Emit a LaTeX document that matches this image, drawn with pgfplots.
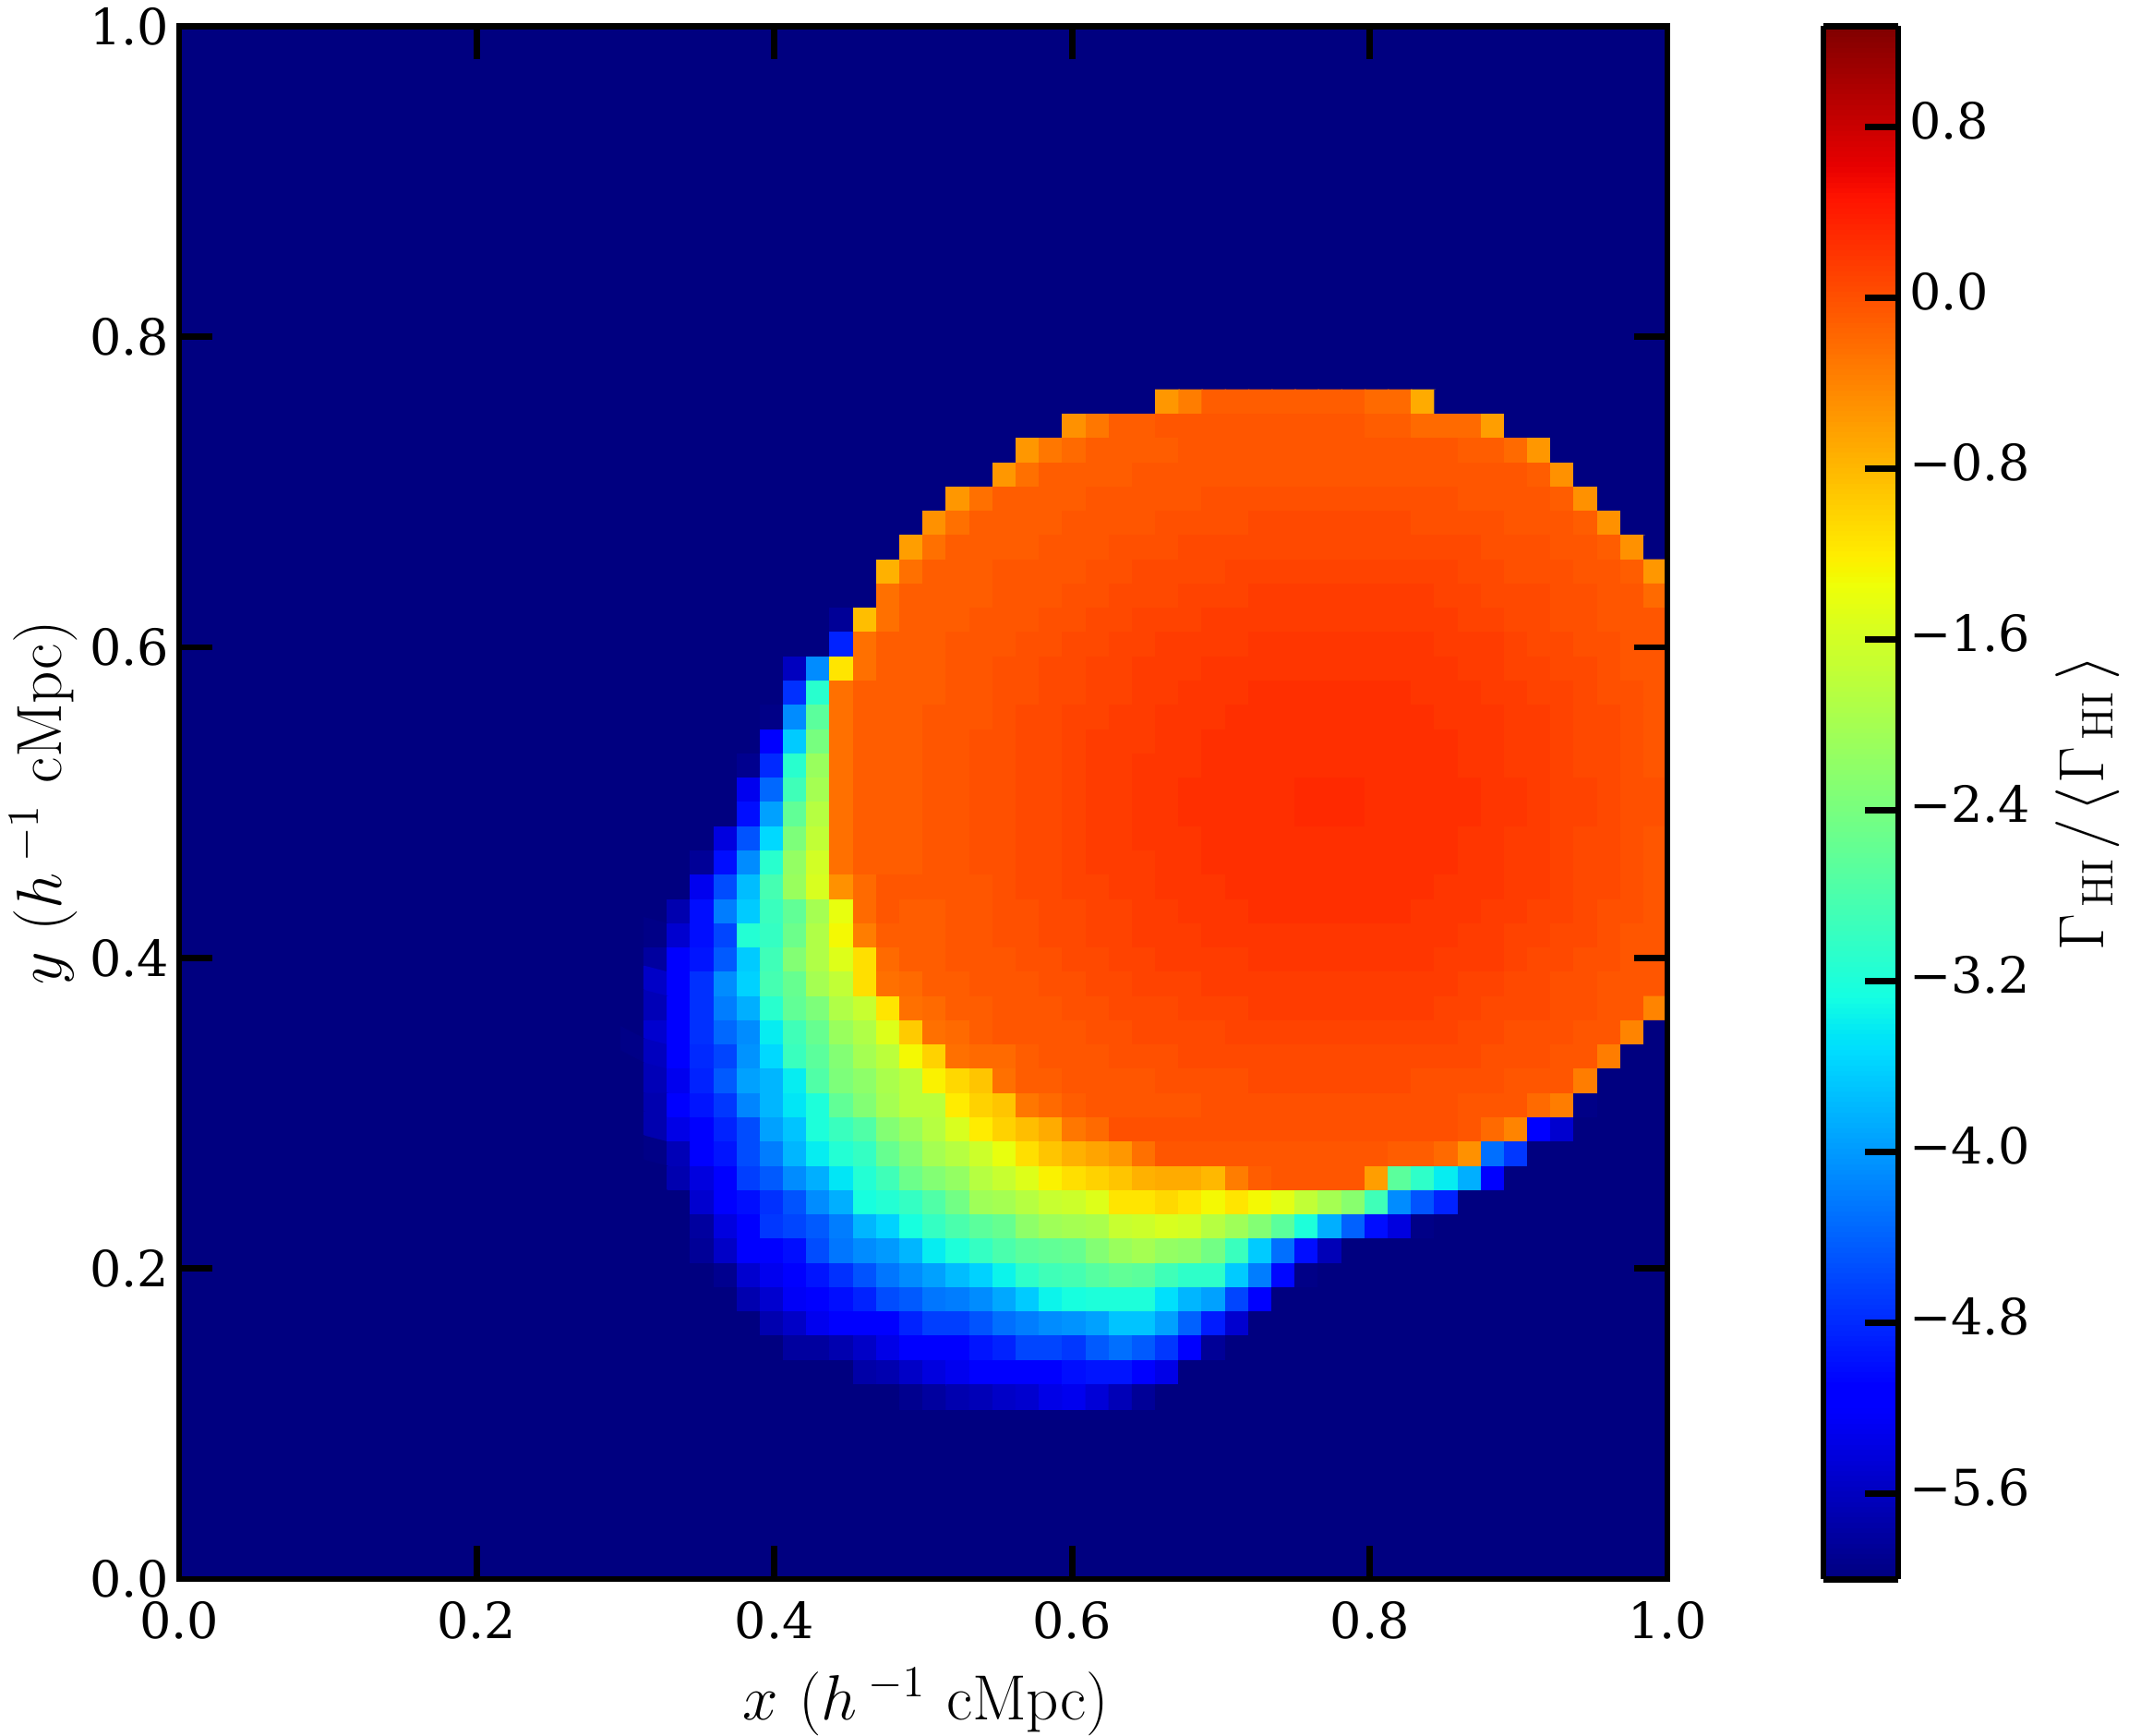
\documentclass[border=0pt]{standalone}
\usepackage{pgfplots}
\pgfplotsset{compat=1.18}
\usepackage[no-math]{fontspec}
\setmainfont{DejaVu Serif}
\pgfplotsset{colormap={mpljet}{rgb(0pt)=(0,0,.5) rgb(22pt)=(0,0,1) rgb(25pt)=(0,0,1) rgb(68pt)=(0,.863,1) rgb(70pt)=(0,.9,.968) rgb(75pt)=(.081,1,.887) rgb(128pt)=(.935,1,.032) rgb(130pt)=(.968,.963,0) rgb(132pt)=(1,.926,0) rgb(178pt)=(1,.074,0) rgb(182pt)=(.909,0,0) rgb(200pt)=(.5,0,0)}}
\newcommand\tk{\fontsize{13.5}{16}\selectfont}
\newcommand\lb{\fontsize{17.28}{20}\selectfont}
\begin{document}
\begin{tikzpicture}
\path[use as bounding box] (-48.5pt,-42.25pt) rectangle (528pt,427.5pt);
\begin{axis}[scale only axis,width=403pt,height=420.4pt,xmin=0,xmax=1,ymin=0,ymax=1,axis on top,
 colormap name=mpljet,point meta min=-6,point meta max=1.27,
 axis line style={line width=1.7pt},
 tick align=inside,major tick length=9pt,tick style={line width=1.7pt,black},
 xtick={0,0.2,0.4,0.6,0.8,1},ytick={0,0.2,0.4,0.6,0.8,1},
 xticklabels={0.0,0.2,0.4,0.6,0.8,1.0},yticklabels={0.0,0.2,0.4,0.6,0.8,1.0},
 tick label style={font=\tk},
 xticklabel style={yshift=-2.5pt},yticklabel style={xshift=0.8pt},
 xlabel={$x\ (h\,^{-1}\ \mathrm{cMpc})$},
 ylabel={$y\ (h\,^{-1}\ \mathrm{cMpc})$},
 label style={font=\lb},
 xlabel style={yshift=-1pt,xshift=0.8pt},ylabel style={yshift=-3.5pt},
 colorbar sampled,
 colorbar style={at={(1.10484,1)},anchor=north west,width=20.25pt,height=420.4pt,scale only axis,
  axis on top,samples=300,
  ytick={-5.6,-4.8,-4.0,-3.2,-2.4,-1.6,-0.8,0,0.8},
  yticklabels={−5.6,−4.8,−4.0,−3.2,−2.4,−1.6,−0.8,0.0,0.8},
  xtick=\empty,ytick pos=right,yticklabel pos=right,tick align=inside,major tick length=9pt,
  tick style={line width=1.7pt,black},axis line style={line width=1.7pt},
  yticklabel style={font=\tk,xshift=-0.5pt,yshift=1.6pt},
  ylabel={$\Gamma_{\mkern2.6mu\mathrm{HI}}\mkern2mu/\mkern2mu\langle\mkern1mu\Gamma_{\mkern2.6mu\mathrm{HI}}\mkern3mu\rangle$},ylabel style={font=\lb}},
]
\addplot[matrix plot*,mesh/cols=2,point meta=explicit] coordinates {(0.25,0.25) [-6] (0.75,0.25) [-6] (0.25,0.75) [-6] (0.75,0.75) [-6]};
\addplot[matrix plot*,mesh/cols=45,point meta=explicit] table[row sep=\\,header=false,meta index=0,
 x expr={(19+mod(\coordindex,45)+0.5)/64},y expr={(63-15-floor(\coordindex/45)+0.5)/64}] {
-6\\-6\\-6\\-6\\-6\\-6\\-6\\-6\\-6\\-6\\-6\\-6\\-6\\-6\\-6\\-6\\-6\\-6\\-6\\-6\\-6\\-6\\-6\\-0.55\\-0.35\\-0.1\\-0.1\\-0.1\\-0.1\\-0.1\\-0.1\\-0.1\\-0.2\\-0.2\\-0.7\\-6\\-6\\-6\\-6\\-6\\-6\\-6\\-6\\-6\\-6\\
-6\\-6\\-6\\-6\\-6\\-6\\-6\\-6\\-6\\-6\\-6\\-6\\-6\\-6\\-6\\-6\\-6\\-6\\-6\\-0.5\\-0.3\\-0.1\\-0.1\\-0.05\\-0.05\\-0.05\\-0.05\\-0.05\\-0.05\\-0.05\\-0.05\\-0.05\\-0.1\\-0.1\\-0.2\\-0.2\\-0.2\\-0.6\\-6\\-6\\-6\\-6\\-6\\-6\\-6\\
-6\\-6\\-6\\-6\\-6\\-6\\-6\\-6\\-6\\-6\\-6\\-6\\-6\\-6\\-6\\-6\\-6\\-0.55\\-0.3\\-0.2\\-0.1\\-0.1\\-0.1\\-0.1\\-0.05\\-0.05\\-0.05\\-0.05\\-0.05\\-0.05\\-0.05\\-0.05\\-0.05\\-0.05\\-0.05\\-0.05\\-0.1\\-0.1\\-0.2\\-0.55\\-6\\-6\\-6\\-6\\-6\\
-6\\-6\\-6\\-6\\-6\\-6\\-6\\-6\\-6\\-6\\-6\\-6\\-6\\-6\\-6\\-6\\-0.55\\-0.25\\-0.1\\-0.1\\-0.1\\-0.1\\-0.05\\-0.05\\-0.05\\-0.05\\-0.05\\-0.05\\-0.05\\-0.05\\-0.05\\-0.05\\-0.05\\-0.05\\-0.05\\-0.05\\-0.05\\-0.05\\-0.05\\-0.1\\-0.5\\-6\\-6\\-6\\-6\\
-6\\-6\\-6\\-6\\-6\\-6\\-6\\-6\\-6\\-6\\-6\\-6\\-6\\-6\\-0.55\\-0.25\\-0.1\\-0.1\\-0.1\\-0.1\\-0.05\\-0.05\\-0.05\\-0.05\\-0.05\\0\\0\\0\\0\\0\\0\\0\\0\\0\\0\\0\\-0.05\\-0.05\\-0.05\\-0.05\\-0.1\\-0.5\\-6\\-6\\-6\\
-6\\-6\\-6\\-6\\-6\\-6\\-6\\-6\\-6\\-6\\-6\\-6\\-6\\-0.5\\-0.25\\-0.1\\-0.1\\-0.1\\-0.1\\-0.05\\-0.05\\-0.05\\-0.05\\0\\0\\0\\0\\0.05\\0.05\\0.05\\0.05\\0.05\\0.05\\0.05\\0\\0\\0\\0\\-0.05\\-0.05\\-0.05\\-0.1\\-0.5\\-6\\-6\\
-6\\-6\\-6\\-6\\-6\\-6\\-6\\-6\\-6\\-6\\-6\\-6\\-0.6\\-0.25\\-0.1\\-0.1\\-0.1\\-0.1\\-0.05\\-0.05\\-0.05\\0\\0\\0\\0.05\\0.05\\0.05\\0.05\\0.05\\0.05\\0.05\\0.05\\0.05\\0.05\\0.05\\0.05\\0.05\\0\\0\\0\\-0.05\\-0.05\\-0.1\\-0.5\\-6\\
-6\\-6\\-6\\-6\\-6\\-6\\-6\\-6\\-6\\-6\\-6\\-0.75\\-0.25\\-0.1\\-0.1\\-0.1\\-0.05\\-0.05\\-0.05\\-0.05\\0\\0\\0.05\\0.05\\0.05\\0.05\\0.1\\0.1\\0.1\\0.1\\0.1\\0.1\\0.1\\0.1\\0.1\\0.1\\0.05\\0.05\\0\\0\\0\\-0.05\\-0.05\\-0.1\\-0.55\\
-6\\-6\\-6\\-6\\-6\\-6\\-6\\-6\\-6\\-6\\-6\\-0.25\\-0.1\\-0.1\\-0.1\\-0.1\\-0.05\\-0.05\\-0.05\\0\\0\\0.05\\0.05\\0.05\\0.1\\0.1\\0.1\\0.15\\0.15\\0.15\\0.15\\0.15\\0.15\\0.15\\0.15\\0.1\\0.1\\0.05\\0.05\\0.05\\0\\0\\-0.05\\-0.05\\-0.2\\
-6\\-6\\-6\\-6\\-6\\-6\\-6\\-6\\-6\\-5.85\\-0.85\\-0.25\\-0.1\\-0.1\\-0.1\\-0.05\\-0.05\\-0.05\\0\\0\\0.05\\0.05\\0.1\\0.1\\0.1\\0.15\\0.15\\0.15\\0.15\\0.15\\0.15\\0.15\\0.15\\0.15\\0.15\\0.15\\0.1\\0.1\\0.05\\0.05\\0\\0\\-0.05\\-0.05\\-0.05\\
-6\\-6\\-6\\-6\\-6\\-6\\-6\\-6\\-6\\-4.85\\-0.25\\-0.1\\-0.1\\-0.1\\-0.05\\-0.05\\-0.05\\0\\0\\0.05\\0.05\\0.1\\0.1\\0.15\\0.15\\0.15\\0.15\\0.2\\0.2\\0.2\\0.2\\0.2\\0.2\\0.2\\0.2\\0.15\\0.15\\0.15\\0.1\\0.05\\0.05\\0\\0\\-0.05\\-0.05\\
-6\\-6\\-6\\-6\\-6\\-6\\-6\\-5.6\\-4.1\\-1.15\\-0.25\\-0.1\\-0.1\\-0.1\\-0.05\\-0.05\\0\\0\\0.05\\0.05\\0.1\\0.1\\0.15\\0.15\\0.15\\0.2\\0.2\\0.2\\0.2\\0.2\\0.2\\0.2\\0.2\\0.2\\0.2\\0.2\\0.15\\0.15\\0.1\\0.1\\0.05\\0.05\\0\\-0.05\\-0.05\\
-6\\-6\\-6\\-6\\-6\\-6\\-6\\-4.75\\-3.1\\-0.25\\-0.1\\-0.1\\-0.1\\-0.1\\-0.05\\-0.05\\0\\0\\0.05\\0.05\\0.1\\0.1\\0.15\\0.15\\0.2\\0.2\\0.2\\0.25\\0.25\\0.25\\0.25\\0.25\\0.25\\0.25\\0.2\\0.2\\0.2\\0.15\\0.15\\0.1\\0.1\\0.05\\0\\0\\-0.05\\
-6\\-6\\-6\\-6\\-6\\-6\\-5.95\\-4.1\\-2.65\\-0.25\\-0.1\\-0.1\\-0.1\\-0.05\\-0.05\\-0.05\\0\\0.05\\0.05\\0.1\\0.1\\0.15\\0.15\\0.2\\0.2\\0.2\\0.25\\0.25\\0.25\\0.25\\0.25\\0.25\\0.25\\0.25\\0.25\\0.2\\0.2\\0.2\\0.15\\0.15\\0.1\\0.05\\0.05\\0\\-0.05\\
-6\\-6\\-6\\-6\\-6\\-6\\-5.2\\-3.65\\-2.4\\-0.25\\-0.1\\-0.1\\-0.1\\-0.05\\-0.05\\0\\0\\0.05\\0.05\\0.1\\0.15\\0.15\\0.15\\0.2\\0.2\\0.25\\0.25\\0.25\\0.25\\0.25\\0.25\\0.25\\0.25\\0.25\\0.25\\0.25\\0.2\\0.2\\0.15\\0.15\\0.1\\0.05\\0.05\\0\\-0.05\\
-6\\-6\\-6\\-6\\-6\\-5.9\\-4.8\\-3.1\\-2.1\\-0.25\\-0.1\\-0.1\\-0.1\\-0.05\\-0.05\\0\\0\\0.05\\0.05\\0.1\\0.15\\0.15\\0.2\\0.2\\0.2\\0.25\\0.25\\0.25\\0.25\\0.25\\0.25\\0.25\\0.25\\0.25\\0.25\\0.25\\0.2\\0.2\\0.15\\0.15\\0.1\\0.05\\0.05\\0\\-0.05\\
-6\\-6\\-6\\-6\\-6\\-5.3\\-4.35\\-2.9\\-2.0\\-0.25\\-0.1\\-0.1\\-0.1\\-0.05\\-0.05\\0\\0\\0.05\\0.05\\0.1\\0.15\\0.15\\0.2\\0.2\\0.25\\0.25\\0.25\\0.25\\0.25\\0.3\\0.3\\0.3\\0.25\\0.25\\0.25\\0.25\\0.25\\0.2\\0.2\\0.15\\0.1\\0.1\\0.05\\0\\0\\
-6\\-6\\-6\\-6\\-6\\-5.0\\-3.95\\-2.6\\-1.85\\-0.25\\-0.1\\-0.1\\-0.1\\-0.05\\-0.05\\0\\0\\0.05\\0.05\\0.1\\0.15\\0.15\\0.2\\0.2\\0.25\\0.25\\0.25\\0.25\\0.25\\0.3\\0.3\\0.3\\0.25\\0.25\\0.25\\0.25\\0.25\\0.2\\0.2\\0.15\\0.1\\0.1\\0.05\\0\\0\\
-6\\-6\\-6\\-6\\-5.4\\-4.5\\-3.55\\-2.35\\-1.75\\-0.25\\-0.1\\-0.1\\-0.1\\-0.05\\-0.05\\0\\0\\0.05\\0.05\\0.1\\0.15\\0.15\\0.2\\0.2\\0.2\\0.25\\0.25\\0.25\\0.25\\0.25\\0.25\\0.25\\0.25\\0.25\\0.25\\0.25\\0.2\\0.2\\0.15\\0.15\\0.1\\0.05\\0.05\\0\\-0.05\\
-6\\-6\\-6\\-5.85\\-5.0\\-4.1\\-3.1\\-2.15\\-1.6\\-0.25\\-0.1\\-0.1\\-0.1\\-0.05\\-0.05\\0\\0\\0.05\\0.05\\0.1\\0.15\\0.15\\0.15\\0.2\\0.2\\0.25\\0.25\\0.25\\0.25\\0.25\\0.25\\0.25\\0.25\\0.25\\0.25\\0.25\\0.2\\0.2\\0.15\\0.15\\0.1\\0.05\\0.05\\0\\-0.05\\
-6\\-6\\-6\\-5.3\\-4.55\\-3.75\\-2.85\\-2.1\\-1.55\\-0.5\\-0.2\\-0.05\\-0.05\\-0.05\\-0.05\\-0.05\\0\\0.05\\0.05\\0.1\\0.1\\0.15\\0.15\\0.2\\0.2\\0.2\\0.25\\0.25\\0.25\\0.25\\0.25\\0.25\\0.25\\0.25\\0.25\\0.2\\0.2\\0.2\\0.15\\0.15\\0.1\\0.05\\0.05\\0\\-0.05\\
-6\\-6\\-5.7\\-5.0\\-4.2\\-3.65\\-2.95\\-2.6\\-2.0\\-1.4\\-0.2\\-0.05\\-0.1\\-0.1\\-0.05\\-0.05\\0\\0\\0.05\\0.05\\0.1\\0.1\\0.15\\0.15\\0.2\\0.2\\0.2\\0.25\\0.25\\0.25\\0.25\\0.25\\0.25\\0.25\\0.2\\0.2\\0.2\\0.15\\0.15\\0.1\\0.1\\0.05\\0\\0\\-0.05\\
-6\\-5.95\\-5.5\\-5.0\\-4.6\\-3.15\\-3.0\\-2.5\\-1.9\\-1.3\\-0.35\\-0.1\\-0.1\\-0.1\\-0.05\\-0.05\\0\\0\\0.05\\0.05\\0.1\\0.1\\0.15\\0.15\\0.15\\0.2\\0.2\\0.2\\0.2\\0.2\\0.2\\0.2\\0.2\\0.2\\0.2\\0.2\\0.15\\0.15\\0.1\\0.1\\0.05\\0.05\\0\\-0.05\\-0.05\\
-6\\-5.8\\-5.2\\-4.95\\-4.45\\-3.65\\-2.9\\-2.3\\-1.9\\-1.5\\-1.1\\-0.2\\-0.1\\-0.1\\-0.05\\-0.05\\-0.05\\0\\0\\0.05\\0.05\\0.1\\0.1\\0.15\\0.15\\0.15\\0.15\\0.2\\0.2\\0.2\\0.2\\0.2\\0.2\\0.2\\0.2\\0.15\\0.15\\0.15\\0.1\\0.05\\0.05\\0\\0\\-0.05\\-0.05\\
-6\\-5.55\\-5.2\\-4.75\\-4.1\\-3.6\\-2.85\\-2.55\\-2.0\\-1.75\\-1.1\\-0.25\\-0.2\\-0.1\\-0.1\\-0.05\\-0.05\\-0.05\\0\\0\\0.05\\0.05\\0.1\\0.1\\0.1\\0.15\\0.15\\0.15\\0.15\\0.15\\0.15\\0.15\\0.15\\0.15\\0.15\\0.15\\0.1\\0.1\\0.05\\0.05\\0\\0\\-0.05\\-0.05\\-0.05\\
-6\\-5.65\\-5.2\\-4.75\\-4.2\\-3.85\\-3.1\\-2.6\\-2.35\\-1.9\\-1.7\\-1.15\\-0.25\\-0.2\\-0.1\\-0.1\\-0.05\\-0.05\\-0.05\\0\\0\\0.05\\0.05\\0.05\\0.1\\0.1\\0.1\\0.15\\0.15\\0.15\\0.15\\0.15\\0.15\\0.15\\0.15\\0.1\\0.1\\0.05\\0.05\\0.05\\0\\0\\-0.05\\-0.05\\-0.4\\
-6\\-5.5\\-5.2\\-4.75\\-4.35\\-4.1\\-3.4\\-2.9\\-2.55\\-2.1\\-1.9\\-1.5\\-0.95\\-0.25\\-0.2\\-0.1\\-0.05\\-0.05\\-0.05\\-0.05\\0\\0\\0.05\\0.05\\0.05\\0.05\\0.1\\0.1\\0.1\\0.1\\0.1\\0.1\\0.1\\0.1\\0.1\\0.1\\0.05\\0.05\\0\\0\\0\\-0.05\\-0.05\\-0.4\\-6\\
-5.95\\-5.6\\-5.2\\-4.8\\-4.6\\-4.05\\-3.55\\-2.95\\-2.65\\-2.3\\-2.0\\-1.8\\-1.3\\-1.0\\-0.25\\-0.2\\-0.2\\-0.1\\-0.05\\-0.05\\-0.05\\0\\0\\0\\0.05\\0.05\\0.05\\0.05\\0.05\\0.05\\0.05\\0.05\\0.05\\0.05\\0.05\\0.05\\0.05\\0\\0\\0\\-0.05\\-0.05\\-0.35\\-6\\-6\\
-6\\-5.65\\-5.3\\-4.85\\-4.45\\-3.95\\-3.8\\-3.4\\-2.75\\-2.35\\-2.2\\-1.95\\-1.8\\-1.25\\-1.05\\-0.9\\-0.25\\-0.1\\-0.1\\-0.05\\-0.05\\-0.05\\-0.05\\0\\0\\0\\0\\0.05\\0.05\\0.05\\0.05\\0.05\\0.05\\0.05\\0\\0\\0\\0\\-0.05\\-0.05\\-0.05\\-0.35\\-6\\-6\\-6\\
-6\\-5.7\\-5.2\\-4.95\\-4.7\\-4.15\\-3.8\\-3.45\\-3.2\\-2.6\\-2.3\\-2.0\\-1.8\\-1.8\\-1.2\\-1.0\\-0.9\\-0.3\\-0.2\\-0.1\\-0.05\\-0.05\\-0.05\\-0.05\\-0.05\\0\\0\\0\\0\\0\\0\\0\\0\\0\\0\\0\\-0.05\\-0.05\\-0.05\\-0.2\\-0.35\\-5.95\\-6\\-6\\-6\\
-6\\-5.7\\-5.35\\-5.2\\-4.85\\-4.55\\-3.95\\-3.7\\-3.2\\-2.95\\-2.75\\-2.3\\-2.1\\-1.85\\-1.55\\-1.2\\-1.0\\-0.85\\-0.7\\-0.3\\-0.2\\0\\0\\0\\0\\0\\0\\0\\0\\0\\0\\0\\0\\0\\0\\0\\-0.05\\-0.2\\-0.4\\-5.2\\-5.5\\-6\\-6\\-6\\-6\\
-6\\-5.95\\-5.65\\-5.2\\-4.95\\-4.55\\-4.2\\-3.8\\-3.4\\-3.15\\-3.0\\-2.55\\-2.3\\-2.0\\-1.85\\-1.65\\-1.4\\-1.1\\-0.9\\-0.75\\-0.65\\-0.55\\-0.25\\-0.05\\-0.05\\-0.05\\-0.05\\-0.05\\-0.05\\-0.05\\-0.05\\-0.05\\-0.05\\-0.1\\-0.1\\-0.2\\-0.5\\-4.3\\-4.7\\-6\\-6\\-6\\-6\\-6\\-6\\
-6\\-6\\-5.7\\-5.4\\-5.2\\-4.65\\-4.45\\-4.1\\-3.85\\-3.45\\-3.15\\-2.9\\-2.5\\-2.3\\-2.15\\-1.85\\-1.7\\-1.5\\-1.25\\-1.1\\-1.0\\-0.9\\-0.75\\-0.7\\-0.7\\-0.8\\-0.35\\-0.1\\-0.05\\-0.05\\-0.05\\-0.05\\-0.6\\-2.65\\-3.05\\-3.4\\-3.85\\-5.2\\-6\\-6\\-6\\-6\\-6\\-6\\-6\\
-6\\-6\\-6\\-5.5\\-5.2\\-5.0\\-4.75\\-4.5\\-4.1\\-3.85\\-3.25\\-3.15\\-3.0\\-2.75\\-2.45\\-2.05\\-2.0\\-1.85\\-1.7\\-1.65\\-1.5\\-1.15\\-1.15\\-1.05\\-1.15\\-1.3\\-1.15\\-1.3\\-1.45\\-1.75\\-2.0\\-2.25\\-2.9\\-4.1\\-4.5\\-4.85\\-6\\-6\\-6\\-6\\-6\\-6\\-6\\-6\\-6\\
-6\\-6\\-6\\-5.8\\-5.4\\-5.2\\-4.7\\-4.6\\-4.45\\-4.2\\-3.8\\-3.6\\-3.25\\-3.0\\-2.8\\-2.65\\-2.55\\-2.2\\-2.05\\-2.0\\-1.95\\-1.7\\-1.65\\-1.55\\-1.6\\-1.85\\-2.05\\-2.3\\-2.65\\-3.2\\-3.85\\-4.4\\-5.0\\-5.4\\-5.95\\-6\\-6\\-6\\-6\\-6\\-6\\-6\\-6\\-6\\-6\\
-6\\-6\\-6\\-5.85\\-5.55\\-5.2\\-5.15\\-5.0\\-4.55\\-4.25\\-4.1\\-4.0\\-3.8\\-3.4\\-3.2\\-3.0\\-2.8\\-2.65\\-2.6\\-2.55\\-2.3\\-2.1\\-2.0\\-2.15\\-2.2\\-2.45\\-2.95\\-3.65\\-4.3\\-5.0\\-5.65\\-6\\-6\\-6\\-6\\-6\\-6\\-6\\-6\\-6\\-6\\-6\\-6\\-6\\-6\\
-6\\-6\\-6\\-6\\-5.9\\-5.5\\-5.3\\-5.15\\-4.95\\-4.75\\-4.5\\-4.25\\-4.1\\-3.95\\-3.75\\-3.6\\-3.35\\-3.05\\-2.9\\-2.85\\-2.7\\-2.6\\-2.65\\-2.9\\-3.05\\-3.05\\-3.65\\-4.2\\-5.05\\-5.95\\-6\\-6\\-6\\-6\\-6\\-6\\-6\\-6\\-6\\-6\\-6\\-6\\-6\\-6\\-6\\
-6\\-6\\-6\\-6\\-6\\-5.7\\-5.5\\-5.25\\-5.15\\-5.0\\-4.85\\-4.55\\-4.45\\-4.25\\-4.2\\-4.1\\-3.9\\-3.65\\-3.35\\-3.25\\-3.2\\-3.2\\-3.2\\-3.5\\-3.8\\-3.95\\-4.6\\-5.2\\-6\\-6\\-6\\-6\\-6\\-6\\-6\\-6\\-6\\-6\\-6\\-6\\-6\\-6\\-6\\-6\\-6\\
-6\\-6\\-6\\-6\\-6\\-6\\-5.7\\-5.55\\-5.3\\-5.2\\-5.15\\-5.1\\-4.85\\-4.65\\-4.65\\-4.5\\-4.3\\-4.2\\-4.1\\-4.05\\-3.95\\-3.7\\-3.7\\-3.95\\-4.4\\-4.9\\-5.5\\-6\\-6\\-6\\-6\\-6\\-6\\-6\\-6\\-6\\-6\\-6\\-6\\-6\\-6\\-6\\-6\\-6\\-6\\
-6\\-6\\-6\\-6\\-6\\-6\\-6\\-5.8\\-5.8\\-5.7\\-5.55\\-5.35\\-5.2\\-5.2\\-5.15\\-4.95\\-4.85\\-4.6\\-4.6\\-4.7\\-4.45\\-4.3\\-4.45\\-4.7\\-5.2\\-5.85\\-6\\-6\\-6\\-6\\-6\\-6\\-6\\-6\\-6\\-6\\-6\\-6\\-6\\-6\\-6\\-6\\-6\\-6\\-6\\
-6\\-6\\-6\\-6\\-6\\-6\\-6\\-6\\-6\\-6\\-5.75\\-5.7\\-5.55\\-5.4\\-5.3\\-5.2\\-5.15\\-5.15\\-5.1\\-5.0\\-4.95\\-4.95\\-5.15\\-5.35\\-6\\-6\\-6\\-6\\-6\\-6\\-6\\-6\\-6\\-6\\-6\\-6\\-6\\-6\\-6\\-6\\-6\\-6\\-6\\-6\\-6\\
-6\\-6\\-6\\-6\\-6\\-6\\-6\\-6\\-6\\-6\\-6\\-6\\-5.9\\-5.8\\-5.7\\-5.65\\-5.55\\-5.5\\-5.35\\-5.3\\-5.45\\-5.65\\-5.85\\-6\\-6\\-6\\-6\\-6\\-6\\-6\\-6\\-6\\-6\\-6\\-6\\-6\\-6\\-6\\-6\\-6\\-6\\-6\\-6\\-6\\-6\\
};
\end{axis}
\end{tikzpicture}
\end{document}
